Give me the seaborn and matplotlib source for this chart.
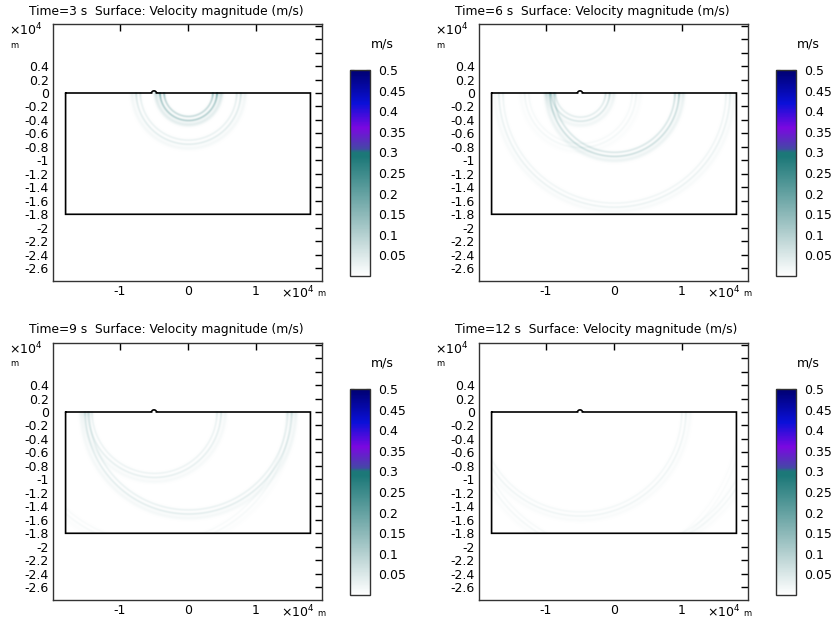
import numpy as np
import matplotlib
matplotlib.use("Agg")
import matplotlib.pyplot as plt
import seaborn as sns
from matplotlib.colors import LinearSegmentedColormap

sns.set_style("white")
plt.rcParams['font.family'] = ['DejaVu Sans']
plt.rcParams['text.color'] = 'black'
plt.rcParams['xtick.color'] = 'black'
plt.rcParams['ytick.color'] = 'black'

# ---------------- data ----------------
times = [3, 6, 9, 12]                       # s
domain_x = [-1.8e4, 1.8e4]                  # m
domain_y = [-1.8e4, 0.0]                    # m
bump_x = -0.5e4                             # m, surface feature
bump_r = 0.035e4                            # m
# wavefronts: (centre x [m], radius [m], peak |v| [m/s])
arcs_t3 = [(0.0, 0.42e4, 0.09), (0.0, 0.77e4, 0.035)]
arcs_t6 = [(0.0, 0.95e4, 0.06), (0.0, 1.70e4, 0.025), (-0.5e4, 0.43e4, 0.045), (-0.5e4, 0.82e4, 0.015)]
arcs_t9 = [(0.0, 1.52e4, 0.035), (-0.5e4, 0.98e4, 0.03), (-0.5e4, 2.0e4, 0.012)]
arcs_t12 = [(-0.5e4, 1.55e4, 0.02), (0.0, 2.12e4, 0.015), (-0.5e4, 2.4e4, 0.008)]
all_arcs = [arcs_t3, arcs_t6, arcs_t9, arcs_t12]

cbar_ticks = [0.05, 0.1, 0.15, 0.2, 0.25, 0.3, 0.35, 0.4, 0.45, 0.5]
x_ticks = [-1e4, 0, 1e4]
y_ticks = [round(v, 1) * 1e4 for v in np.arange(-2.6, 1.01, 0.2)]
y_label_max = 0.4e4

# colormap stops
cmap_pos = [0.0, 0.15, 0.3, 0.58, 0.599, 0.62, 0.72, 0.84, 1.0]
cmap_col = ["#ffffff", "#c8dcdc", "#8cb8b8", "#1c7878", "#1c7878", "#4646a8", "#7a08e0", "#0a10d8", "#000070"]

# ---------------- figure ----------------
W, H = 834, 623
fig = plt.figure(figsize=(W / 100, H / 100), dpi=100)
fig.patch.set_facecolor("white")
cmap = LinearSegmentedColormap.from_list("vel", list(zip(cmap_pos, cmap_col)))


def add_px_axes(l, t, r, b):
    return fig.add_axes([l / W, 1 - b / H, (r - l) / W, (b - t) / H])


def ftext(x, y, s, **kw):
    fig.text(x / W, 1 - y / H, s, color="black", **kw)


fs = 9
xs = np.linspace(domain_x[0], domain_x[1], 1440)
ys = np.linspace(domain_y[0], domain_y[1], 720)
X, Y = np.meshgrid(xs, ys)
w = 0.018e4
gap = 0.06e4

for k, (t, arcs) in enumerate(zip(times, all_arcs)):
    col, row = k % 2, k // 2
    ox, oy = 426 * col, 319 * row
    ax = add_px_axes(53 + ox, 24 + oy, 322 + ox, 281 + oy)
    ax.set_xlim(-1.985e4, 1.97e4)
    ax.set_ylim(-2.79e4, 1.024e4)

    F = np.zeros_like(X)
    for cx, R, amp in arcs:
        r = np.hypot(X - cx, Y)
        ring = np.exp(-((r - R) / w) ** 2) + 0.75 * np.exp(-((r - R + gap) / w) ** 2) \
            + 0.4 * np.exp(-((r - R - gap) / (1.8 * w)) ** 2)
        F += amp * ring * (1 + 1.5 * np.exp(Y / 0.06e4))
    F = np.clip(F, 0, 0.5)
    im = ax.imshow(F, extent=[domain_x[0], domain_x[1], domain_y[0], domain_y[1]],
                   origin="lower", cmap=cmap, vmin=0, vmax=0.5, aspect="auto",
                   interpolation="antialiased", zorder=1)

    # domain boundary with the surface bump
    th = np.linspace(np.pi, 0, 40)
    bx = np.concatenate([[domain_x[0], bump_x - bump_r], bump_x + bump_r * np.cos(th),
                         [bump_x + bump_r, domain_x[1], domain_x[1], domain_x[0], domain_x[0]]])
    by = np.concatenate([[domain_y[1], domain_y[1]], domain_y[1] + bump_r * np.sin(th) * 0.9,
                         [domain_y[1], domain_y[1], domain_y[0], domain_y[0], domain_y[1]]])
    ax.plot(bx, by, color="black", lw=1.2, zorder=3, solid_joinstyle="miter")

    ax.set_xticks(x_ticks)
    ax.set_xticklabels([f"{v / 1e4:g}" for v in x_ticks])
    ax.set_yticks(y_ticks)
    ax.set_yticklabels([f"{v / 1e4:g}" if v <= y_label_max + 1 else "" for v in y_ticks])
    ax.tick_params(direction="in", length=5, width=1, top=True, right=True,
                   labelsize=fs, colors="black", pad=3)
    for s in ax.spines.values():
        s.set_color("#333333")
        s.set_linewidth(1.0)

    ftext(29 + ox, 11 + oy, f"Time={t} s  Surface: Velocity magnitude (m/s)", fontsize=8.8,
          va="center", ha="left")
    ftext(9 + ox, 30 + oy, r"$\times10^4$", fontsize=fs, va="center", ha="left")
    ftext(10 + ox, 45 + oy, "m", fontsize=6, va="center", ha="left")
    ftext(281 + ox, 293 + oy, r"$\times10^4$", fontsize=fs, va="center", ha="left")
    ftext(317 + ox, 294 + oy, "m", fontsize=6, va="center", ha="left")

    cax = add_px_axes(350 + ox, 70 + oy, 370 + ox, 276 + oy)
    cb = fig.colorbar(im, cax=cax, ticks=cbar_ticks)
    cb.ax.set_yticklabels([f"{v:g}" for v in cbar_ticks])
    cb.ax.tick_params(direction="in", length=3, width=0.8, left=True, right=True,
                      labelsize=fs, pad=6, colors="black")
    cb.outline.set_linewidth(1.0)
    cb.outline.set_edgecolor("#333333")
    ftext(382 + ox, 44 + oy, "m/s", fontsize=fs, va="center", ha="center")

fig.savefig("out.png", dpi=100, facecolor="white")
